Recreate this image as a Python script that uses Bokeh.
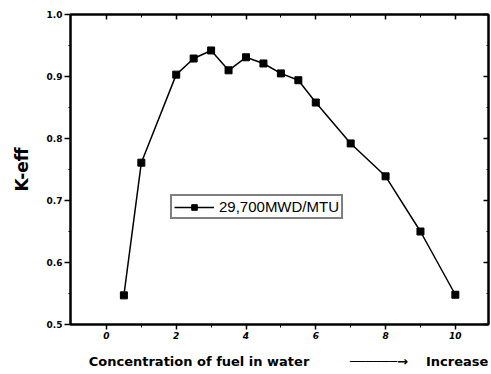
from bokeh.plotting import figure
from bokeh.models import (Range1d, LinearAxis, FixedTicker, Legend, LegendItem,
                          NumeralTickFormatter)
from bokeh.embed import file_html
from bokeh.resources import INLINE

# Data
conc = [0.5, 1.0, 2.0, 2.5, 3.0, 3.5, 4.0, 4.5, 5.0, 5.5, 6.0, 7.0, 8.0, 9.0, 10.0]
keff = [0.547, 0.761, 0.903, 0.929, 0.942, 0.910, 0.931, 0.921, 0.905, 0.894,
        0.858, 0.792, 0.739, 0.650, 0.548]
series_name = "29,700MWD/MTU"
x_ticks = [0, 2, 4, 6, 8, 10]
x_minor = [1, 3, 5, 7, 9]
y_ticks = [0.5, 0.6, 0.7, 0.8, 0.9, 1.0]
y_minor = [0.55, 0.65, 0.75, 0.85, 0.95]
x_title = "Concentration of fuel in water"
x_title2 = "Increase"
y_title = "K-eff"

FONT = "DejaVu Sans"
NB = "\u00a0"
arrow_txt = "\u2500" * 6 + "\u2192"
x_label_full = NB * 4 + x_title + NB * 9 + arrow_txt + NB * 4 + x_title2

p = figure(width=491, height=374, output_backend="svg", toolbar_location=None,
           x_range=Range1d(-1.03, 10.95), y_range=Range1d(0.5, 1.0),
           min_border_left=70, min_border_right=3, min_border_top=14,
           min_border_bottom=50)
p.background_fill_color = "white"
p.border_fill_color = "white"
p.outline_line_color = "black"
p.outline_line_width = 2
p.xgrid.visible = False
p.ygrid.visible = False

for ax in p.xaxis:
    ax.ticker = FixedTicker(ticks=x_ticks, minor_ticks=x_minor)
for ax in p.yaxis:
    ax.ticker = FixedTicker(ticks=y_ticks, minor_ticks=y_minor)
    ax.formatter = NumeralTickFormatter(format="0.0")

for ax in list(p.xaxis) + list(p.yaxis):
    ax.axis_line_width = 2
    ax.major_tick_line_width = 1.5
    ax.minor_tick_line_width = 1
    ax.major_tick_in = 0
    ax.minor_tick_in = 0
    ax.major_label_text_font = FONT
    ax.major_label_text_font_style = "bold"
    ax.major_label_text_font_size = "9px"
    ax.major_label_text_color = "black"
    ax.axis_label_text_font = FONT
    ax.axis_label_text_font_style = "bold"
    ax.axis_label_text_color = "black"
p.xaxis.major_tick_out = 5
p.xaxis.minor_tick_out = 3
p.xaxis.major_label_standoff = 2
p.xaxis.major_label_text_font_style = "bold italic"
p.xaxis.axis_label = x_label_full
p.xaxis.axis_label_text_font_size = "13px"
p.xaxis.axis_label_standoff = 12
p.yaxis.major_tick_out = 6
p.yaxis.minor_tick_out = 2
p.yaxis.major_label_standoff = 2
p.yaxis.axis_label = y_title
p.yaxis.axis_label_text_font_size = "17px"
p.yaxis.axis_label_standoff = 12

# mirrored axes with inward ticks, no labels
top = LinearAxis(ticker=FixedTicker(ticks=x_ticks, minor_ticks=x_minor),
                 major_tick_in=5, major_tick_out=0, minor_tick_in=3, minor_tick_out=0,
                 major_label_text_font_size="1px", major_label_text_color=None,
                 major_label_standoff=0, axis_line_width=2, major_tick_line_width=1.5)
right = LinearAxis(ticker=FixedTicker(ticks=y_ticks, minor_ticks=y_minor),
                   major_tick_in=5, major_tick_out=0, minor_tick_in=2, minor_tick_out=0,
                   major_label_text_font_size="1px", major_label_text_color=None,
                   major_label_standoff=0, axis_line_width=2, major_tick_line_width=1.5)
p.add_layout(top, "above")
p.add_layout(right, "right")

line = p.line(conc, keff, line_color="black", line_width=1.5)
pts = p.scatter(conc, keff, marker="square", size=7, fill_color="black", line_color="black")

legend = Legend(items=[LegendItem(label=series_name, renderers=[line, pts])],
                location=(100, 105), border_line_color="black", border_line_width=2,
                label_text_font="Liberation Sans", label_text_font_size="15px",
                label_text_color="black",
                glyph_width=40, glyph_height=14, padding=2, margin=0, spacing=0,
                label_standoff=5, background_fill_alpha=1)
p.add_layout(legend, "center")

open("out.html", "w").write(file_html(p, INLINE))
